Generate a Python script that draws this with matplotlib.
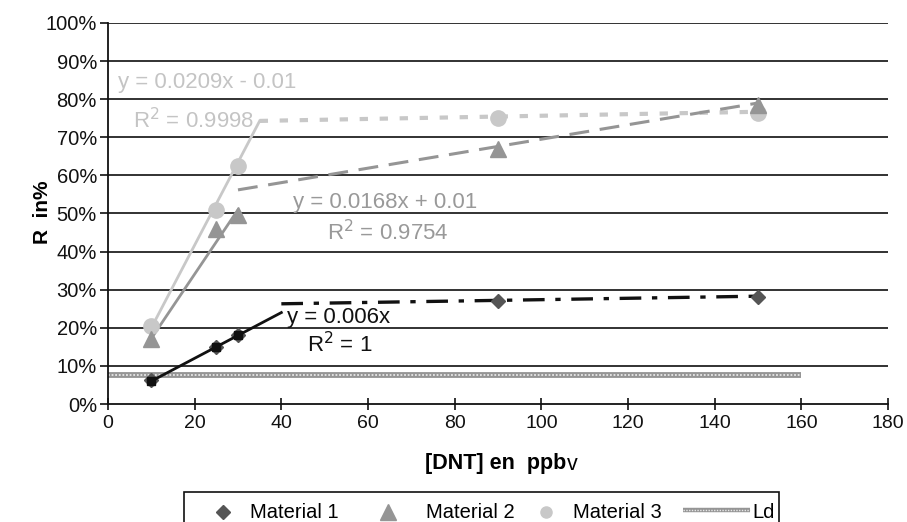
import matplotlib
matplotlib.use("Agg")
import matplotlib.pyplot as plt
from matplotlib.lines import Line2D
from matplotlib.patches import Rectangle
from matplotlib.ticker import FuncFormatter

plt.rcParams['font.family'] = ['Liberation Sans', 'DejaVu Sans']

# ---- data ----
conc = [10, 25, 30, 90, 150]
mat1 = [0.063, 0.15, 0.18, 0.27, 0.28]
mat2 = [0.17, 0.46, 0.495, 0.67, 0.785]
mat3 = [0.205, 0.51, 0.625, 0.75, 0.765]

# trend lines
m1_fit_x = [10, 25, 30, 40]
m1_fit_y = [0.06, 0.15, 0.18, 0.24]
m1_tail_x = [40, 90, 150]
m1_tail_y = [0.263, 0.272, 0.283]
m2_fit_x = [10, 30]
m2_fit_y = [0.172, 0.51]
m2_tail_x = [30, 150]
m2_tail_y = [0.562, 0.79]
m3_fit_x = [10, 35]
m3_fit_y = [0.20, 0.743]
m3_tail_x = [35, 150]
m3_tail_y = [0.743, 0.767]

ld_x = [0, 160]
ld_y = [0.075, 0.075]

y_ticks = [0, 0.1, 0.2, 0.3, 0.4, 0.5, 0.6, 0.7, 0.8, 0.9, 1.0]
x_ticks = [0, 20, 40, 60, 80, 100, 120, 140, 160, 180]

c1, c2, c3 = '#555555', '#959595', '#c8c8c8'
EQ = 16

fig = plt.figure(figsize=(9.07, 5.22), dpi=100)
ax = fig.add_axes([108/907, 1-404/522, (888-108)/907, (404-23)/522])
ax.set_xlim(0, 180)
ax.set_ylim(0, 1)

for yv in y_ticks[1:]:
    ax.axhline(yv, color='#222222', lw=1.3, zorder=1)

# Ld line (hatched look)
ax.plot(ld_x, ld_y, color='#959595', lw=4.2, solid_capstyle='butt', zorder=2)
ax.plot(ld_x, ld_y, color='#e8e8e8', lw=1.3, dashes=(1, 1), zorder=2.1)

# trend lines
ax.plot(m3_fit_x, m3_fit_y, color=c3, lw=2, zorder=3)
ax.plot(m3_tail_x, m3_tail_y, color=c3, lw=3, dashes=(2.0, 2.8), zorder=3)
ax.plot(m2_fit_x, m2_fit_y, color=c2, lw=2, zorder=3)
ax.plot(m2_tail_x, m2_tail_y, color=c2, lw=2.2, dashes=(6.5, 3.5), zorder=3)
ax.plot(m1_fit_x, m1_fit_y, color='#111111', lw=2, marker='s', ms=6, markevery=[0, 1, 2], zorder=4)
ax.plot(m1_tail_x, m1_tail_y, color='#111111', lw=2.4, dashes=(6.5, 3.2, 1.6, 3.2), zorder=3)

# points
ax.plot(conc, mat3, ls='none', marker='o', ms=11, color=c3, mec=c3, zorder=5)
ax.plot(conc, mat2, ls='none', marker='^', ms=12, color=c2, mec=c2, zorder=5)
ax.plot(conc, mat1, ls='none', marker='D', ms=7.5, color=c1, mec=c1, zorder=3.5)

# equations
ax.text(2.3, 0.843, 'y = 0.0209x - 0.01', color='#c4c4c4', fontsize=EQ, va='center', ha='left')
ax.text(5.8, 0.743, r'R$^2$ = 0.9998', color='#c4c4c4', fontsize=EQ, va='center', ha='left')
ax.text(42.7, 0.528, 'y = 0.0168x + 0.01', color='#999999', fontsize=EQ, va='center', ha='left')
ax.text(50.5, 0.451, r'R$^2$ = 0.9754', color='#999999', fontsize=EQ, va='center', ha='left')
ax.text(41.3, 0.228, 'y = 0.006x', color='#111111', fontsize=EQ, va='center', ha='left')
ax.text(45.9, 0.155, r'R$^2$ = 1', color='#111111', fontsize=EQ, va='center', ha='left')

ax.set_yticks(y_ticks)
ax.yaxis.set_major_formatter(FuncFormatter(lambda v, p: f'{v*100:.0f}%'))
ax.set_xticks(x_ticks)
ax.tick_params(axis='both', labelsize=14.5, colors='#111111', width=1.2, length=6, direction='out', pad=2)
ax.tick_params(axis='x', direction='inout', length=8, pad=4, labelsize=14)
for s in ['top', 'right']:
    ax.spines[s].set_visible(False)
for s in ['left', 'bottom']:
    ax.spines[s].set_color('#111111')
    ax.spines[s].set_linewidth(1.3)

# axis labels
fig.text(42/907, 1-212/522, 'R  in%', rotation=90, fontsize=15, fontweight='bold', ha='center', va='center')
fig.text(566/907, 1-464/522, '[DNT] en  ppb', fontsize=15.5, fontweight='bold', ha='right', va='center')
fig.text(567/907, 1-464/522, 'v', fontsize=15.5, ha='left', va='center')

# legend (manual)
W, H = 907, 522
fig.patches.append(Rectangle((184/W, 1-530/H), (779-184)/W, (530-492)/H, transform=fig.transFigure,
                             fill=False, edgecolor='#111111', lw=1.2))
ly = 1-512/H
LF = 14.5
fig.add_artist(Line2D([223/W], [ly], marker='D', ms=7, color=c1, transform=fig.transFigure))
fig.text(250/W, ly, 'Material 1', fontsize=LF, va='center')
fig.add_artist(Line2D([388/W], [ly], marker='^', ms=11, color=c2, transform=fig.transFigure))
fig.text(426/W, ly, 'Material 2', fontsize=LF, va='center')
fig.add_artist(Line2D([546/W], [ly], marker='o', ms=8, color=c3, transform=fig.transFigure))
fig.text(573/W, ly, 'Material 3', fontsize=LF, va='center')
fig.add_artist(Line2D([683/W, 750/W], [ly+2/H, ly+2/H], color='#959595', lw=3.2, solid_capstyle='butt', transform=fig.transFigure))
fig.add_artist(Line2D([683/W, 750/W], [ly+2/H, ly+2/H], color='#e8e8e8', lw=1.0, dashes=(1, 1), transform=fig.transFigure))
fig.text(752/W, ly, 'Ld', fontsize=LF, va='center')

fig.savefig('out.png', dpi=100)
